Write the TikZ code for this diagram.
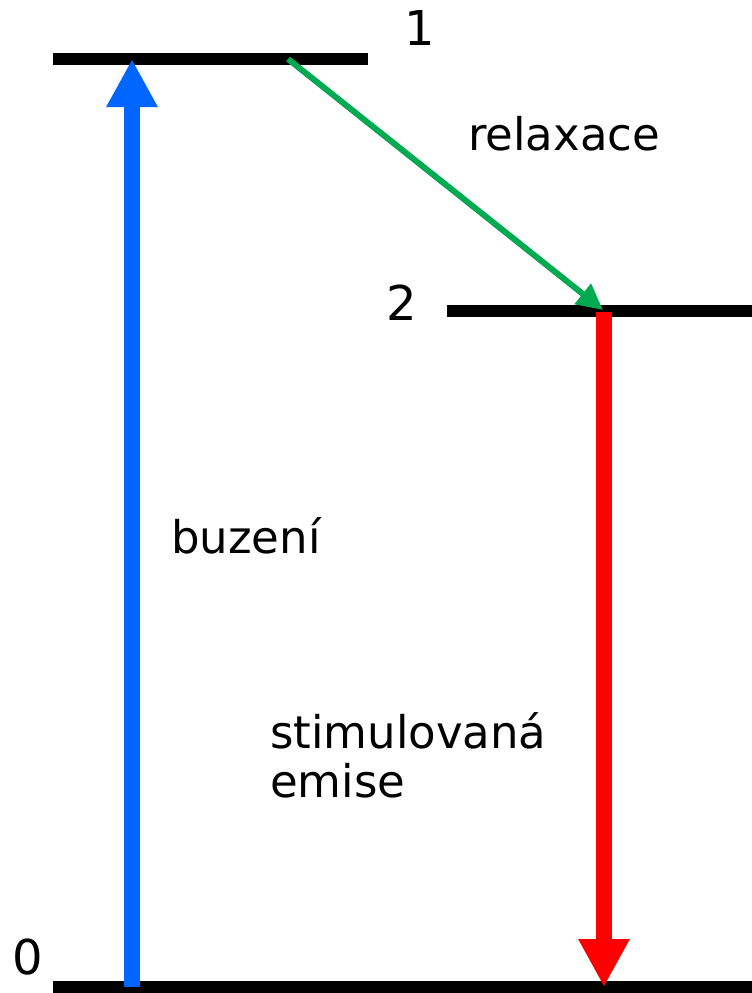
\documentclass[tikz,border=0pt]{standalone}
\usepackage{fontspec}
\setmainfont{DejaVu Sans}
\usetikzlibrary{arrows.meta}
\definecolor{pumpblue}{RGB}{0,102,255}
\definecolor{relaxgreen}{RGB}{0,170,80}
\definecolor{emitred}{RGB}{255,0,0}
\tikzset{
  level/.style={line width=11.5pt, black},
  levellabel/.style={inner sep=0pt, anchor=base, font=\fontsize{48}{50}\selectfont},
  txt/.style={inner sep=0pt, anchor=base west, align=left, font=\fontsize{45}{49}\selectfont},
  fatarrow/.style={line width=16pt, -{Triangle[length=48pt, width=48pt]}},
}

\begin{document}
\begin{tikzpicture}[x=1pt, y=-1pt]
      \useasboundingbox (0,0) rectangle (752,993);

      % energy levels
      \coordinate (L1w) at (53,59);
      \coordinate (L1e) at (368,59);
      \coordinate (L2w) at (447,311);
      \coordinate (L2e) at (752,311);
      \coordinate (L0w) at (53,987);
      \coordinate (L0e) at (752,987);

      \draw[level] (L1w) -- (L1e);
      \draw[level] (L2w) -- (L2e);
      \draw[level] (L0w) -- (L0e);

      \node[levellabel] (n1) at (420,45) {1};
      \node[levellabel] (n2) at (402,320) {2};
      \node[levellabel] (n0) at (28,974) {0};

      % transitions
      \coordinate (up0) at (132,987);
      \coordinate (up1) at (132,59);
      \coordinate (rel1) at (288,59);
      \coordinate (rel2) at (603,310);
      \coordinate (em2) at (604,312);
      \coordinate (em0) at (604,987);

      \draw[fatarrow, pumpblue] (up0) -- (up1);
      \draw[line width=6pt, relaxgreen, -{Triangle[length=26pt, width=25pt]}] (rel1) -- (rel2);
      \draw[fatarrow, emitred] (em2) -- (em0);

      \node[txt] (relax) at (468,150) {relaxace};
      \node[txt] (buz) at (171,553) {buzení};
      % base of a two-line node sits on its last line
      \node[txt] (stim) at (270,797) {stimulovaná\\emise};

\end{tikzpicture}
\end{document}
